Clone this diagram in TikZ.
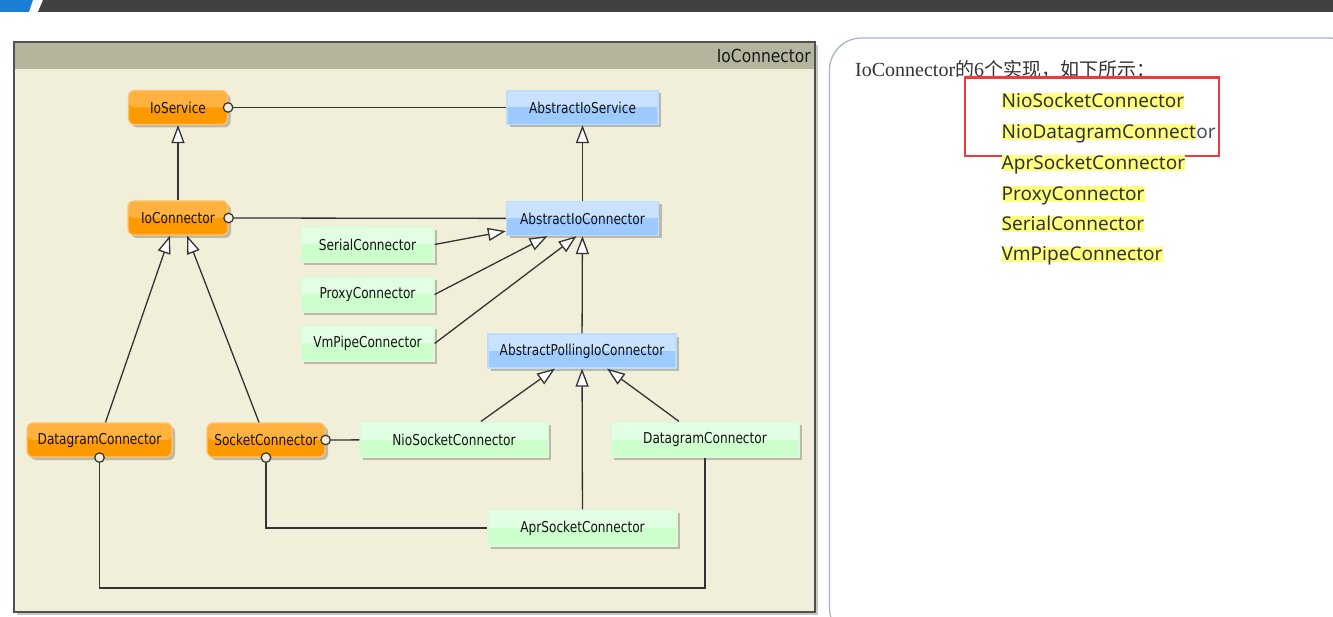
\documentclass[tikz,border=0pt]{standalone}
\usepackage{fontspec}
\setmainfont{Liberation Sans}
\newfontfamily\umlfont[FakeStretch=0.81]{DejaVu Sans}
\newfontfamily\titlefont[FakeStretch=0.86]{DejaVu Sans}
\newfontfamily\cjkfont{Noto Sans CJK SC}
\newfontfamily\listfont{Noto Sans}
\newfontfamily\seriffont{Liberation Serif}
\usetikzlibrary{arrows.meta,shadows}
\definecolor{barblue}{HTML}{1A7FD4}
\definecolor{bardark}{HTML}{414141}
\definecolor{hdr}{HTML}{B5B59D}
\definecolor{bodyc}{HTML}{F1EED9}
\definecolor{panelborder}{HTML}{505050}
\definecolor{shadowgray}{HTML}{C8C8C8}
\definecolor{orfill}{HTML}{FF9900}
\definecolor{orborder}{HTML}{FFC46B}
\definecolor{blfill}{HTML}{9DCBFF}
\definecolor{blborder}{HTML}{BCDCFF}
\definecolor{grfill}{HTML}{CCFFCC}
\definecolor{grborder}{HTML}{DDF8DD}
\definecolor{linec}{HTML}{333333}
\definecolor{frameblue}{HTML}{A9B5CA}
\definecolor{hl}{HTML}{FFFF80}
\definecolor{txt}{HTML}{333333}
\definecolor{orc}{HTML}{3F4F66}
\definecolor{redbox}{HTML}{EF3B3B}
\tikzset{
  umlbox/.style={font=\umlfont\fontsize{15}{18}\selectfont, text=black!92,
    minimum height=34pt, inner xsep=3pt, line width=1.2pt,
    drop shadow={shadow xshift=3pt, shadow yshift=-3pt, opacity=0.22, fill=black}},
  orangebox/.style={umlbox, fill=orfill, draw=orborder, rounded corners=6pt,
    path picture={\fill[white,opacity=0.25] (path picture bounding box.north west) rectangle (path picture bounding box.east);}},
  bluebox/.style={umlbox, fill=blfill, draw=blborder,
    path picture={\fill[white,opacity=0.45] (path picture bounding box.north west) rectangle (path picture bounding box.east);}},
  greenbox/.style={umlbox, fill=grfill, draw=grborder,
    path picture={\fill[white,opacity=0.45] (path picture bounding box.north west) rectangle (path picture bounding box.east);}},
  lolli/.style={circle, draw=linec, fill=bodyc, line width=1.2pt, inner sep=0pt, minimum size=9.5pt},
  conn/.style={draw=linec, line width=1.3pt},
  gen/.style={conn, -{Triangle[length=18pt,width=13pt,fill=white]}},
  hlitem/.style={font=\listfont\fontsize{19}{23}\selectfont, text=txt, fill=hl,
    inner xsep=0pt, inner ysep=0pt, text height=14pt, text depth=1.5pt},
}
\begin{document}
\begin{tikzpicture}[x=1pt,y=-1pt]
\useasboundingbox (0,0) rectangle (1333,617);
\fill[white] (0,0) rectangle (1333,617);
\begin{scope}
\clip (0,0) rectangle (1333,617);
% top bar
\fill[barblue] (0,0) -- (33,0) -- (29,12) -- (0,12) -- cycle;
\fill[bardark] (43,0) -- (1333,0) -- (1333,12) -- (38,12) -- cycle;
% diagram panel
\fill[shadowgray] (17,45) rectangle (818,615);
\fill[bodyc] (14,42) rectangle (815,612);
\fill[hdr] (14,42) rectangle (815,69);
\draw[panelborder, line width=2pt] (14,42) rectangle (815,612);
\node[font=\titlefont\fontsize{18}{21}\selectfont, text=black!90, anchor=base east, inner sep=0pt] (title) at (811,63) {IoConnector};
% right panel
\draw[frameblue, line width=1.3pt, rounded corners=32pt] (829.5,38) rectangle (1360,640);
\end{scope}

% nodes
\node[orangebox, minimum width=99pt] (ios) at (178,107.5) {IoService};
\node[bluebox, minimum width=151pt] (aios) at (582.5,107.5) {AbstractIoService};
\node[orangebox, minimum width=100pt] (ioc) at (178,218) {IoConnector};
\node[bluebox, minimum width=152pt] (aioc) at (582.5,218.5) {AbstractIoConnector};
\node[greenbox, minimum width=133pt, minimum height=35pt] (ser) at (367.5,244.5) {SerialConnector};
\node[greenbox, minimum width=133pt, minimum height=35pt] (pro) at (367.5,294.5) {ProxyConnector};
\node[greenbox, minimum width=133pt, minimum height=35pt] (vmp) at (367.5,343.5) {VmPipeConnector};
\node[bluebox, minimum width=188pt] (apc) at (582,351) {AbstractPollingIoConnector};
\node[greenbox, minimum width=188pt, minimum height=35pt] (nio) at (454,439.5) {NioSocketConnector};
\node[greenbox, minimum width=188pt, minimum height=35pt] (gdc) at (705,439.5) {DatagramConnector};
\node[greenbox, minimum width=189pt, minimum height=36pt] (apr) at (582.5,528) {AprSocketConnector};
\node[orangebox, minimum width=145pt] (odc) at (99.5,440) {DatagramConnector};
\node[orangebox, minimum width=118pt] (sc) at (266,440) {SocketConnector};

% lollipops
\node[lolli] (l1) at (ios.east) {};
\node[lolli] (l2) at (ioc.east) {};
\node[lolli] (l3) at (sc.east) {};
\node[lolli] (l4) at (sc.south) {};
\node[lolli] (l5) at (odc.south) {};

% connectors
\draw[conn] (l1) -- (aios);
\draw[conn] (l2) -- (aioc);
\draw[conn] (l3) -- (nio);
\draw[conn] (l4) |- (apr.west);
\coordinate (lowy) at (0,588);
\draw[conn] (l5) |- (lowy -| gdc.south) -- (gdc.south);
\draw[gen] (ioc) -- (ios);
\draw[gen] (aioc) -- (aios);
\draw[gen] (ser.east) -- ([yshift=5pt]aioc.south west);
\draw[gen] (pro.east) -- ([xshift=-35pt]aioc.south);
\draw[gen] (vmp.east) -- ([xshift=-6pt]aioc.south);
\draw[gen] (apc) -- (aioc);
\draw[gen] ([xshift=6pt]odc.north) -- ([xshift=-8pt]ioc.south);
\draw[gen] ([xshift=-7pt]sc.north) -- ([xshift=9pt]ioc.south);
\draw[gen] ([xshift=27pt]nio.north) -- ([xshift=-27pt]apc.south);
\draw[gen] ([xshift=-26pt]gdc.north) -- ([xshift=25pt]apc.south);
\draw[gen] (apr) -- (apc);

% right text
\node[anchor=base west, inner sep=0pt, text=txt] (intro) at (855,77)
  {{\seriffont\fontsize{20}{24}\selectfont IoConnector}{\cjkfont\fontsize{19}{23}\selectfont 的}{\seriffont\fontsize{20}{24}\selectfont 6}{\cjkfont\fontsize{19}{23}\selectfont 个实现，如下所示：}};
\draw[redbox, line width=2.5pt, fill=white] (965,77.5) rectangle (1219,156);
\node[hlitem, anchor=base west] (i1) at (1001.5,107.5) {NioSocketConnector};
\node[hlitem, anchor=base west] (i2) at (1001.5,138.5) {NioDatagramConnect};
\node[font=\listfont\fontsize{19}{23}\selectfont, text=orc, anchor=base west, inner sep=0pt] (i2b) at (i2.base east) {or};
\node[hlitem, anchor=base west] (i3) at (1001.5,169.5) {AprSocketConnector};
\node[hlitem, anchor=base west] (i4) at (1001.5,200.5) {ProxyConnector};
\node[hlitem, anchor=base west] (i5) at (1001.5,230.5) {SerialConnector};
\node[hlitem, anchor=base west] (i6) at (1001.5,261) {VmPipeConnector};
\end{tikzpicture}
\end{document}
